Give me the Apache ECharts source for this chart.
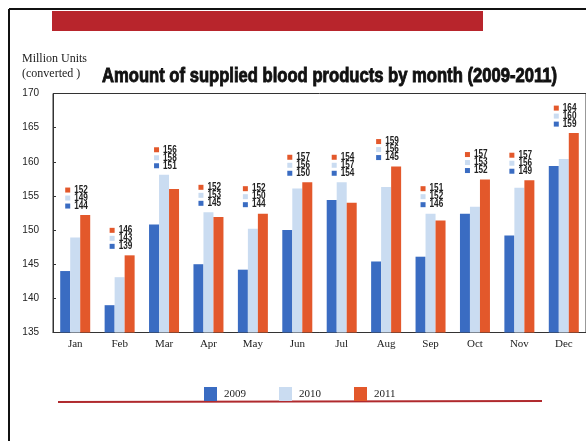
<!DOCTYPE html>
<html><head><meta charset="utf-8">
<script src="https://cdn.jsdelivr.net/npm/echarts@6/dist/echarts.min.js"></script>
<style>html,body{margin:0;padding:0;background:#fff}#c{width:586px;height:441px}</style>
</head><body><div id="c"></div>
<script>
var months = ['Jan','Feb','Mar','Apr','May','Jun','Jul','Aug','Sep','Oct','Nov','Dec'];
var s2009 = [144.0,139.0,150.8,145.0,144.2,150.0,154.4,145.4,146.1,152.4,149.2,159.4];
var s2010 = [148.9,143.1,158.1,152.6,150.2,156.1,157.0,156.3,152.4,153.4,156.2,160.4];
var s2011 = [152.2,146.3,156.0,151.9,152.4,157.0,154.0,159.3,151.4,157.4,157.3,164.2];
var yTicks = [135,140,145,150,155,160,165,170];
var seriesNames = ['2009','2010','2011'];
var colors = ['#3a6cc2','#cadcf1','#e3582b'];
var titleText = 'Amount of supplied blood products by month (2009-2011)';

var labelData = months.map(function(m,i){
  return [i, Math.max(s2009[i], s2010[i], s2011[i]), s2011[i], s2010[i], s2009[i]];
});

// measure to condense title to target width
var cv = document.createElement('canvas').getContext('2d');
cv.font = 'bold 20px "Liberation Sans"';
var tw = cv.measureText(titleText).width;
var titleScale = 455 / tw;

var chart = echarts.init(document.getElementById('c'), null, {renderer:'canvas'});
chart.setOption({
  animation:false,
  backgroundColor:'#fff',
  graphic:[
    {type:'line', shape:{x1:9,y1:9,x2:586,y2:9}, style:{stroke:'#111',lineWidth:2}},
    {type:'line', shape:{x1:9,y1:9,x2:9,y2:441}, style:{stroke:'#111',lineWidth:2}},
    {type:'rect', shape:{x:52,y:11,width:431,height:20}, style:{fill:'#b8252c'}},
    {type:'line', shape:{x1:58,y1:402,x2:542,y2:401}, style:{stroke:'#b02a2e',lineWidth:2}},
    {type:'text', left:22, top:53, style:{text:'Million Units', fontFamily:'Liberation Serif', fontSize:12, fill:'#222'}},
    {type:'text', left:22, top:68, style:{text:'(converted )', fontFamily:'Liberation Serif', fontSize:12, fill:'#222'}},
    {type:'text', x:102, y:76, scaleX:titleScale, scaleY:1.02, originX:0, originY:0,
      style:{text:titleText, fontFamily:'Liberation Sans', fontWeight:'bold', fontSize:20, fill:'#111', stroke:'#111', lineWidth:0.9, verticalAlign:'middle', align:'left'}}
  ],
  legend:{
    data:seriesNames, left:199, top:382, itemWidth:13, itemHeight:14, itemGap:33,
    icon:'rect',
    textStyle:{fontFamily:'Liberation Serif', fontSize:11, color:'#222', padding:[0,0,0,2]}
  },
  grid:{left:53, right:0, top:93.5, bottom:108.5, show:true, borderColor:'#333', borderWidth:1, backgroundColor:'transparent'},
  xAxis:{
    type:'category', data:months,
    axisLine:{lineStyle:{color:'#333',width:1}},
    axisTick:{inside:true, length:3, lineStyle:{color:'#333'}},
    axisLabel:{fontFamily:'Liberation Serif', fontSize:11, color:'#222', margin:6}
  },
  yAxis:{
    type:'value', min:yTicks[0], max:yTicks[yTicks.length-1], interval:5,
    axisLine:{show:true, lineStyle:{color:'#333',width:1}},
    axisTick:{show:true, inside:true, length:3, lineStyle:{color:'#333'}},
    splitLine:{show:false},
    axisLabel:{fontFamily:'Liberation Sans', fontSize:10, color:'#222', margin:14}
  },
  series:[
    {name:seriesNames[0], type:'bar', data:s2009, barWidth:10, barGap:'0%', itemStyle:{color:colors[0]}},
    {name:seriesNames[1], type:'bar', data:s2010, barWidth:10, barGap:'0%', itemStyle:{color:colors[1]}},
    {name:seriesNames[2], type:'bar', data:s2011, barWidth:10, barGap:'0%', itemStyle:{color:colors[2]}},
    {type:'custom', data:labelData, z:10, silent:true,
      renderItem:function(params, api){
        var pt = api.coord([api.value(0), api.value(1)]);
        var cx = pt[0], top = pt[1];
        var vals = [api.value(2), api.value(3), api.value(4)];
        var cols = [colors[2], colors[1], colors[0]];
        var children = [];
        for (var r=0;r<3;r++){
          var yc = top - 25 + r*8;
          children.push({type:'rect', shape:{x:cx-10, y:yc-2.5, width:5, height:5}, style:{fill:cols[r]}});
          children.push({type:'text', x:cx-1, y:yc, scaleX:0.82, scaleY:1,
            style:{x:0, y:0, text:String(Math.round(vals[r])), fontFamily:'Liberation Sans', fontWeight:'bold', fontSize:10, fill:'#222', verticalAlign:'middle', align:'left'}});
        }
        return {type:'group', children:children};
      }
    }
  ]
});
</script></body></html>
